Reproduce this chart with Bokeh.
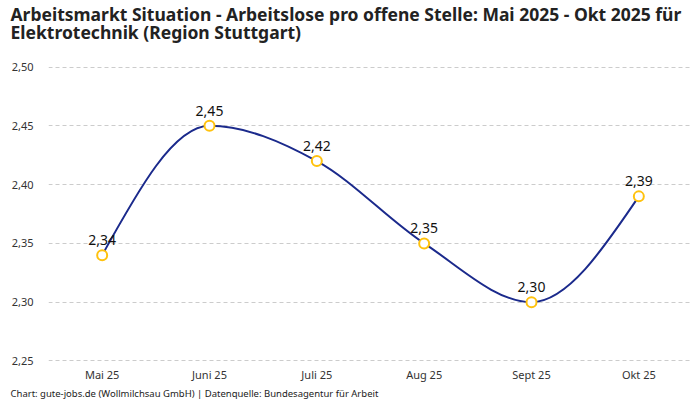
from bokeh.plotting import figure
from bokeh.models import Title, FixedTicker, ColumnDataSource
from bokeh.core.properties import value
from bokeh.embed import file_html
from bokeh.resources import INLINE

# ---- data ----
months = ["Mai 25", "Juni 25", "Juli 25", "Aug 25", "Sept 25", "Okt 25"]
values = [2.34, 2.45, 2.42, 2.35, 2.30, 2.39]
value_labels = ["2,34", "2,45", "2,42", "2,35", "2,30", "2,39"]
y_ticks = [2.25, 2.30, 2.35, 2.40, 2.45, 2.50]
y_tick_labels = ["2,25", "2,30", "2,35", "2,40", "2,45", "2,50"]

title_line1 = "Arbeitsmarkt Situation - Arbeitslose pro offene Stelle: Mai 2025 - Okt 2025 für"
title_line2 = "Elektrotechnik (Region Stuttgart)"
footer = "Chart: gute-jobs.de (Wollmilchsau GmbH) | Datenquelle: Bundesagentur für Arbeit"

FONT = "Noto Sans"
LINE_COLOR = "#1b2a8c"
MARKER_COLOR = "#ffc20e"

xs = list(range(len(months)))

# monotone (d3 curveMonotoneX) tangents for smooth line rendering
def sign(v):
    return (v > 0) - (v < 0)

n = len(xs)
t = [0.0] * n
for i in range(1, n - 1):
    h0 = xs[i] - xs[i - 1]
    h1 = xs[i + 1] - xs[i]
    s0 = (values[i] - values[i - 1]) / h0
    s1 = (values[i + 1] - values[i]) / h1
    pp = (s0 * h1 + s1 * h0) / (h0 + h1)
    t[i] = (sign(s0) + sign(s1)) * min(abs(s0), abs(s1), 0.5 * abs(pp))
h = xs[1] - xs[0]
t[0] = (3 * (values[1] - values[0]) / h - t[1]) / 2
h = xs[-1] - xs[-2]
t[-1] = (3 * (values[-1] - values[-2]) / h - t[-2]) / 2

bz = dict(x0=[], y0=[], x1=[], y1=[], cx0=[], cy0=[], cx1=[], cy1=[])
for i in range(n - 1):
    hh = xs[i + 1] - xs[i]
    bz["x0"].append(xs[i]); bz["y0"].append(values[i])
    bz["x1"].append(xs[i + 1]); bz["y1"].append(values[i + 1])
    bz["cx0"].append(xs[i] + hh / 3); bz["cy0"].append(values[i] + hh * t[i] / 3)
    bz["cx1"].append(xs[i + 1] - hh / 3); bz["cy1"].append(values[i + 1] - hh * t[i + 1] / 3)

W, H = 700, 400
TOP, BOTTOM, LEFT, RIGHT = 66, 39, 48, 8

p = figure(width=W, height=H, x_range=(-0.5, 5.5), y_range=(2.2495, 2.5005),
           output_backend="svg", toolbar_location=None, title=None,
           min_border_left=LEFT, min_border_right=RIGHT, min_border_top=TOP,
           min_border_bottom=BOTTOM)
p.outline_line_color = None
p.background_fill_color = "white"
p.border_fill_color = "white"

p.bezier(x0="x0", y0="y0", x1="x1", y1="y1", cx0="cx0", cy0="cy0", cx1="cx1", cy1="cy1",
         source=ColumnDataSource(bz), line_color=LINE_COLOR, line_width=2)

src = ColumnDataSource(dict(x=xs, y=values, lab=value_labels))
p.scatter("x", "y", source=src, size=10, marker="circle", fill_color="white",
          line_color=MARKER_COLOR, line_width=2)
p.text("x", "y", text="lab", source=src, text_align="center", text_baseline="bottom",
       y_offset=-10, text_font=value(FONT), text_font_size="14px", text_color="#111111")

# axes
p.xaxis.ticker = FixedTicker(ticks=xs)
p.xaxis.major_label_overrides = {i: m for i, m in zip(xs, months)}
p.yaxis.ticker = FixedTicker(ticks=y_ticks)
p.yaxis.major_label_overrides = {v: l for v, l in zip(y_ticks, y_tick_labels)}
for ax in (p.xaxis, p.yaxis):
    ax.axis_line_color = None
    ax.major_tick_line_color = None
    ax.minor_tick_line_color = None
    ax.major_tick_out = 0
    ax.major_tick_in = 0
    ax.minor_tick_out = 0
    ax.major_label_text_font = FONT
    ax.major_label_text_font_size = "11px"
    ax.major_label_text_color = "#333333"
p.yaxis.major_label_standoff = 15
p.xaxis.major_label_standoff = 5

p.xgrid.grid_line_color = None
p.ygrid.grid_line_color = "#cccccc"
p.ygrid.grid_line_dash = "4 3"
p.ygrid.grid_line_width = 1

# spacer between title and plot area, then the two-line title above it
p.add_layout(Title(text=" ", align="left", text_font=FONT, text_font_size="10px",
                   standoff=11), "above")
p.add_layout(Title(text=title_line1 + "\n" + title_line2, align="left", offset=-38,
                   text_font=FONT, text_font_size="17.5px", text_font_style="bold",
                   text_color="#222222", standoff=-10, text_line_height=0.76,
                   vertical_align="bottom"), "above")
p.add_layout(Title(text=footer, align="left", offset=-38, text_font=FONT,
                   text_font_size="9.5px", text_font_style="normal", text_color="#222222",
                   standoff=0, text_line_height=0.8), "below")

open("out.html", "w").write(file_html(p, INLINE))
